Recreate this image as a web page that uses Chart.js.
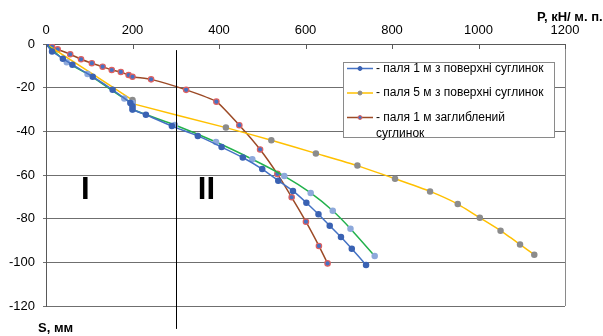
<!DOCTYPE html>
<html>
<head>
<meta charset="utf-8">
<script src="https://cdn.jsdelivr.net/npm/chart.js@4"></script>
<style>
html, body { margin: 0; padding: 0; background: #fff; }
#box { width: 603px; height: 336px; }
</style>
</head>
<body>
<div id="box"><canvas id="grafico"></canvas></div>
<script>
// паля 1 м з поверхні, суглинок
let p1 = [0, 14, 39, 61, 108, 154, 195, 200, 200, 231, 291, 351, 406, 455, 500, 537, 571, 602, 630, 656, 682, 707, 740];
let s1 = [0, -3.4, -6.7, -9.5, -15, -21, -27, -28.5, -30, -32.4, -37.6, -42.1, -47.2, -52, -57.3, -62.6, -67.3, -72.7, -78, -83.2, -88.4, -93.8, -101.2];

// зелена крива (без легенди)
let p2 = [0, 48, 96, 181, 200, 200, 200, 298, 393, 477, 551, 612, 663, 704, 760];
let s2 = [0, -8.4, -13.7, -25, -27, -28.7, -30, -37.1, -44.9, -52.8, -60.5, -68.2, -76.4, -84.6, -97.1];

// паля 5 м з поверхні, суглинок
let p3 = [0, 200, 200, 200, 416, 521, 624, 720, 807, 888, 952, 1003, 1051, 1096, 1129];
let s3 = [0, -25.7, -26.6, -27.3, -38.3, -44.1, -50.1, -55.7, -61.7, -67.5, -73.3, -79.6, -85.5, -91.8, -96.5];

// паля 1 м заглиблений суглинок
let p4 = [0, 14, 27, 56, 81, 106, 131, 152, 173, 191, 200, 243, 324, 394, 447, 495, 535, 568, 601, 631, 651];
let s4 = [0, -1.2, -2.4, -4.7, -7, -8.8, -10.4, -11.9, -12.8, -14.2, -15, -16.2, -21, -26.4, -37.2, -48.3, -59.5, -70.2, -81.4, -92.5, -100.5];

let nomes = ['- паля 1 м з поверхні суглинок', '', '- паля 5 м з поверхні суглинок', '- паля 1 м заглиблений суглинок'];
let linhasLegenda = [['- паля 1 м з поверхні суглинок'], ['- паля 5 м з поверхні суглинок'], ['- паля 1 м заглиблений', 'суглинок']];

let xTicks = [0, 200, 400, 600, 800, 1000, 1200];
let yTicks = [0, -20, -40, -60, -80, -100, -120];

let tituloX = 'P, кН/ м. п.';
let tituloY = 'S, мм';

// межа зон I / II
let fronteira = 300;
let zonas = [{ t: 'I', x: 91, y: -67 }, { t: 'II', x: 371, y: -67 }];

function pontos(xs, ys) {
    let r = [];
    for (let i = 0; i < xs.length; i++) {
        r.push({ x: xs[i], y: ys[i] });
    }
    return r;
}

const fonte = '"Liberation Sans", Arial, sans-serif';

const extras = {
    id: 'extras',
    afterDraw(chart) {
        let ctx = chart.ctx;
        let xs = chart.scales.x;
        let ys = chart.scales.y;
        let area = chart.chartArea;
        ctx.save();

        // right border
        ctx.strokeStyle = '#8a8a8a';
        ctx.lineWidth = 1;
        ctx.beginPath();
        ctx.moveTo(Math.round(area.right) + 0.5, area.top);
        ctx.lineTo(Math.round(area.right) + 0.5, area.bottom);
        ctx.stroke();

        // tick marks inside on top axis
        ctx.strokeStyle = '#595959';
        xTicks.forEach(v => {
            let px = Math.round(xs.getPixelForValue(v)) + 0.5;
            ctx.beginPath();
            ctx.moveTo(px, area.top);
            ctx.lineTo(px, area.top + 5);
            ctx.stroke();
        });

        // zone boundary
        let bx = Math.round(xs.getPixelForValue(fronteira)) + 0.5;
        ctx.strokeStyle = '#000';
        ctx.beginPath();
        ctx.moveTo(bx, ys.getPixelForValue(-2.8));
        ctx.lineTo(bx, ys.getPixelForValue(-130.5));
        ctx.stroke();

        // zone labels
        ctx.fillStyle = '#000';
        ctx.font = 'bold 31px ' + fonte;
        ctx.textAlign = 'center';
        ctx.textBaseline = 'middle';
        zonas.forEach(z => {
            ctx.fillText(z.t, xs.getPixelForValue(z.x), ys.getPixelForValue(z.y));
        });

        // axis titles
        ctx.font = 'bold 13px ' + fonte;
        ctx.textAlign = 'left';
        ctx.fillText(tituloX, 537, 17);
        ctx.fillText(tituloY, 38, 328);

        // legend
        let lx = 343, ly = 62, lw = 211, lh = 75;
        ctx.fillStyle = '#fff';
        ctx.fillRect(lx, ly, lw, lh);
        ctx.strokeStyle = '#8a8a8a';
        ctx.strokeRect(lx + 0.5, ly + 0.5, lw, lh);
        let rows = [68.5, 93, 117.5];
        let ds = chart.data.datasets.filter(d => d.label !== '');
        ctx.font = '12px ' + fonte;
        ds.forEach((d, i) => {
            let y = rows[i];
            ctx.strokeStyle = d.borderColor;
            ctx.lineWidth = 1.5;
            ctx.beginPath();
            ctx.moveTo(347, y);
            ctx.lineTo(373, y);
            ctx.stroke();
            ctx.fillStyle = d.pointBackgroundColor;
            ctx.strokeStyle = d.pointBorderColor;
            ctx.lineWidth = 1;
            ctx.beginPath();
            ctx.arc(360, y, 2, 0, Math.PI * 2);
            ctx.fill();
            ctx.stroke();
            ctx.fillStyle = '#000';
            linhasLegenda[i].forEach((t, k) => {
                ctx.fillText(t, 376, y + k * 16);
            });
        });
        ctx.restore();
    }
};

const data = {
    datasets: [
        {
            label: nomes[0],
            data: pontos(p1, s1),
            borderColor: '#4472C4',
            pointBackgroundColor: '#3A62B3',
            pointBorderColor: '#3A62B3',
            borderWidth: 1.5,
            pointRadius: 2.5,
            tension: 0.15
        },
        {
            label: nomes[1],
            data: pontos(p2, s2),
            borderColor: '#22B14C',
            pointBackgroundColor: '#8EA9DB',
            pointBorderColor: '#8EA9DB',
            borderWidth: 1.5,
            pointRadius: 2.5,
            tension: 0.15
        },
        {
            label: nomes[2],
            data: pontos(p3, s3),
            borderColor: '#FFC000',
            pointBackgroundColor: '#8C8C8C',
            pointBorderColor: '#8C8C8C',
            borderWidth: 1.5,
            pointRadius: 2.5,
            tension: 0.15
        },
        {
            label: nomes[3],
            data: pontos(p4, s4),
            borderColor: '#9C4A26',
            pointBackgroundColor: '#4472C4',
            pointBorderColor: '#E0605F',
            borderWidth: 1.5,
            pointRadius: 2.7,
            pointBorderWidth: 1.2,
            tension: 0.15
        }
    ]
};

const config = {
    type: 'scatter',
    data: data,
    options: {
        responsive: true,
        maintainAspectRatio: false,
        animation: false,
        showLine: true,
        layout: { padding: { left: 0, top: 0, right: 38, bottom: 30 } },
        plugins: {
            legend: { display: false },
            tooltip: { enabled: false }
        },
        scales: {
            x: {
                type: 'linear',
                position: 'top',
                min: 0,
                max: 1200,
                afterBuildTicks: s => { s.ticks = xTicks.map(v => ({ value: v })); },
                afterFit: s => { s.height = 44; },
                ticks: {
                    color: '#000',
                    font: { family: fonte, size: 13 },
                    padding: 6,
                    callback: v => String(v)
                },
                grid: { drawOnChartArea: false, drawTicks: false },
                border: { color: '#595959' }
            },
            y: {
                min: -120,
                max: 0,
                afterBuildTicks: s => { s.ticks = yTicks.map(v => ({ value: v })); },
                afterFit: s => { s.width = 46; },
                ticks: {
                    color: '#000',
                    font: { family: fonte, size: 13 },
                    padding: 8,
                    callback: v => String(v)
                },
                grid: { color: '#6f6f6f', tickLength: 3 },
                border: { color: '#595959' }
            }
        }
    },
    plugins: [extras]
};

const myChart = new Chart(document.getElementById('grafico'), config);
</script>
</body>
</html>
